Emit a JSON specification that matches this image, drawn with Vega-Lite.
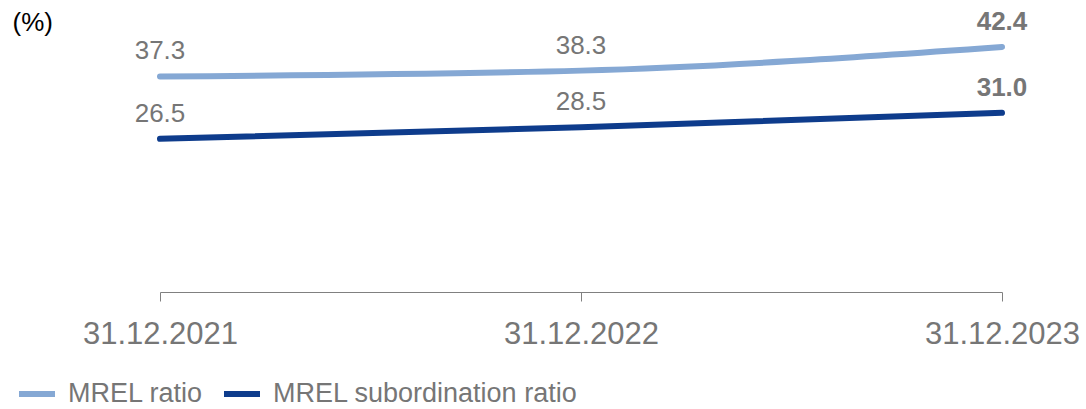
{
  "$schema": "https://vega.github.io/schema/vega-lite/v6.json",
  "autosize": "none",
  "width": 842,
  "height": 289,
  "padding": {"left": 160, "top": 3, "right": 84, "bottom": 117},
  "background": "white",
  "config": {"view": {"stroke": null}, "font": "Liberation Sans"},
  "data": {
    "values": [
      {"date": "31.12.2021", "series": "MREL ratio", "value": 37.3, "last": 0},
      {"date": "31.12.2022", "series": "MREL ratio", "value": 38.3, "last": 0},
      {"date": "31.12.2023", "series": "MREL ratio", "value": 42.4, "last": 1},
      {"date": "31.12.2021", "series": "MREL subordination ratio", "value": 26.5, "last": 0},
      {"date": "31.12.2022", "series": "MREL subordination ratio", "value": 28.5, "last": 0},
      {"date": "31.12.2023", "series": "MREL subordination ratio", "value": 31.0, "last": 1}
    ]
  },
  "encoding": {
    "x": {
      "field": "date", "type": "ordinal", "sort": null,
      "scale": {"type": "point", "padding": 0},
      "axis": {
        "title": null, "labelAngle": 0, "labelFontSize": 31, "labelColor": "#767676",
        "labelPadding": 18, "tickSize": 9, "tickColor": "#808080", "domainColor": "#808080",
        "tickWidth": 1, "domainWidth": 1, "grid": false, "labelFont": "Liberation Sans"
      }
    },
    "y": {
      "field": "value", "type": "quantitative",
      "scale": {"domain": [0, 50], "nice": false, "zero": true},
      "axis": {
        "title": "(%)", "titleAngle": 0, "titleX": -148, "titleY": 27, "titleAlign": "left",
        "titleBaseline": "alphabetic", "titleFontSize": 26, "titleFontWeight": "normal",
        "titleColor": "#000000", "titleFont": "Liberation Sans",
        "labels": false, "ticks": false, "domain": false, "grid": false
      }
    }
  },
  "layer": [
    {
      "mark": {"type": "line", "strokeWidth": 6, "strokeCap": "round", "interpolate": "monotone"},
      "encoding": {
        "color": {
          "field": "series", "type": "nominal",
          "scale": {"domain": ["MREL ratio", "MREL subordination ratio"], "range": ["#85A8D4", "#0E3C8C"]},
          "legend": {
            "title": null, "orient": "none", "direction": "horizontal",
            "legendX": -144, "legendY": 370,
            "symbolType": "stroke", "symbolSize": 1296, "symbolStrokeWidth": 6,
            "labelFontSize": 27, "labelColor": "#767676", "labelFont": "Liberation Sans",
            "labelOffset": 10, "columnPadding": 8, "labelLimit": 400
          }
        }
      }
    },
    {
      "transform": [{"filter": "datum.last == 0"}],
      "mark": {"type": "text", "fontSize": 26, "color": "#767676", "baseline": "alphabetic", "dy": -17, "font": "Liberation Sans"},
      "encoding": {"text": {"field": "value", "type": "quantitative", "format": ".1f"}}
    },
    {
      "transform": [{"filter": "datum.last == 1"}],
      "mark": {"type": "text", "fontSize": 26, "fontWeight": "bold", "color": "#767676", "baseline": "alphabetic", "dy": -17, "font": "Liberation Sans"},
      "encoding": {"text": {"field": "value", "type": "quantitative", "format": ".1f"}}
    }
  ]
}
